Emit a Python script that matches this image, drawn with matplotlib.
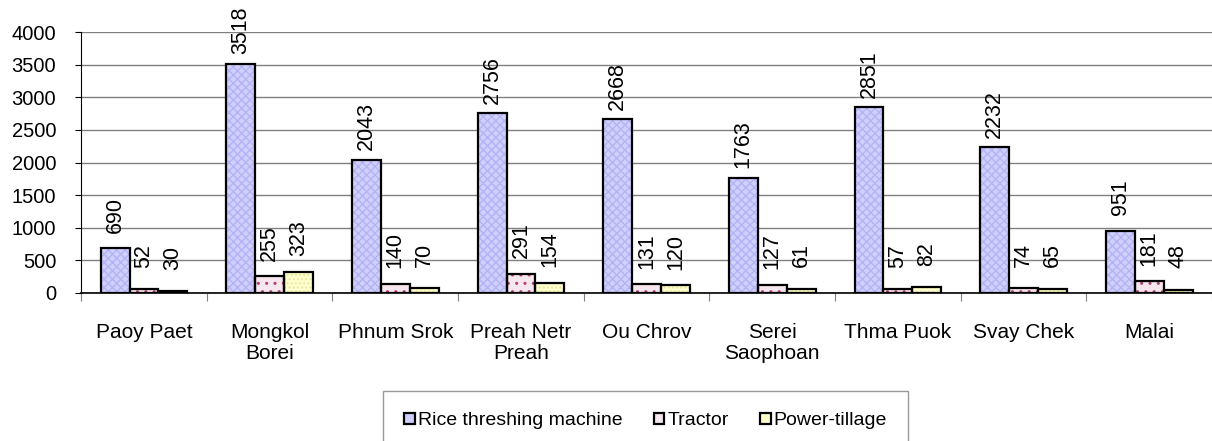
import numpy as np
import matplotlib
matplotlib.use("Agg")
import matplotlib.pyplot as plt

plt.rcParams['font.family'] = ['Liberation Sans', 'DejaVu Sans']

districts = ["Paoy Paet", "Mongkol\nBorei", "Phnum Srok", "Preah Netr\nPreah", "Ou Chrov",
             "Serei\nSaophoan", "Thma Puok", "Svay Chek", "Malai"]
rice_threshing = [690, 3518, 2043, 2756, 2668, 1763, 2851, 2232, 951]
tractor = [52, 255, 140, 291, 131, 127, 57, 74, 181]
power_tillage = [30, 323, 70, 154, 120, 61, 82, 65, 48]

series = [
    ("Rice threshing machine", rice_threshing, "#d0d0ff", "#b4b4f4", "xxxx"),
    ("Tractor", tractor, "#f6e6ee", "#b04070", ".."),
    ("Power-tillage", power_tillage, "#ffffcc", "#e8e8a8", "...."),
]

fig = plt.figure(figsize=(12.12, 4.41), dpi=100)
ax = fig.add_axes([0.067, 0.336, 0.933, 0.591])

x = np.arange(len(districts))
w = 0.23
handles = []
for i, (name, vals, fc, hc, hatch) in enumerate(series):
    pos = x + (i - 1) * w
    ax.bar(pos, vals, w, color=fc, edgecolor=hc, hatch=hatch, linewidth=0, zorder=2)
    ax.bar(pos, vals, w, facecolor="none", edgecolor="black", linewidth=1.6, zorder=3)
    handles.append(plt.Rectangle((0, 0), 1, 1, facecolor=fc, edgecolor="black", linewidth=1.6))
    for p, v in zip(pos, vals):
        ax.annotate(str(v), (p, v), xytext=(0, 24), textcoords="offset points",
                    rotation=90, ha="center", va="center", fontsize=15.5)

ax.set_xlim(-0.5, len(districts) - 0.5)
ax.set_ylim(0, 4000)
ax.set_yticks(range(0, 4001, 500))
ax.tick_params(axis="y", labelsize=14.5, length=4, width=0.8, pad=14)
ax.set_xticks(x)
ax.set_xticklabels(districts, fontsize=15, linespacing=1.1)
ax.tick_params(axis="x", length=0, pad=22)
ax.set_xticks(np.arange(-0.5, len(districts), 1), minor=True)
ax.tick_params(axis="x", which="minor", length=6, width=0.8, color="#808080")
ax.yaxis.grid(True, color="#808080", linewidth=1)
ax.set_axisbelow(True)
for s in ["top", "right"]:
    ax.spines[s].set_visible(False)
ax.spines["left"].set_color("black")
ax.spines["bottom"].set_color("black")
ax.spines["bottom"].set_linewidth(1.2)

leg = fig.legend(handles, [s[0] for s in series], loc="upper left",
                 bbox_to_anchor=(383 / 1212, 1 - 391 / 441),
                 ncol=3, fontsize=14, frameon=True, fancybox=False,
                 handlelength=0.55, handleheight=0.55, handletextpad=0.15,
                 columnspacing=1.6, borderaxespad=0, borderpad=1.1)
leg.get_frame().set_edgecolor("#808080")
leg.get_frame().set_linewidth(1)

fig.savefig("out.png", dpi=100)
